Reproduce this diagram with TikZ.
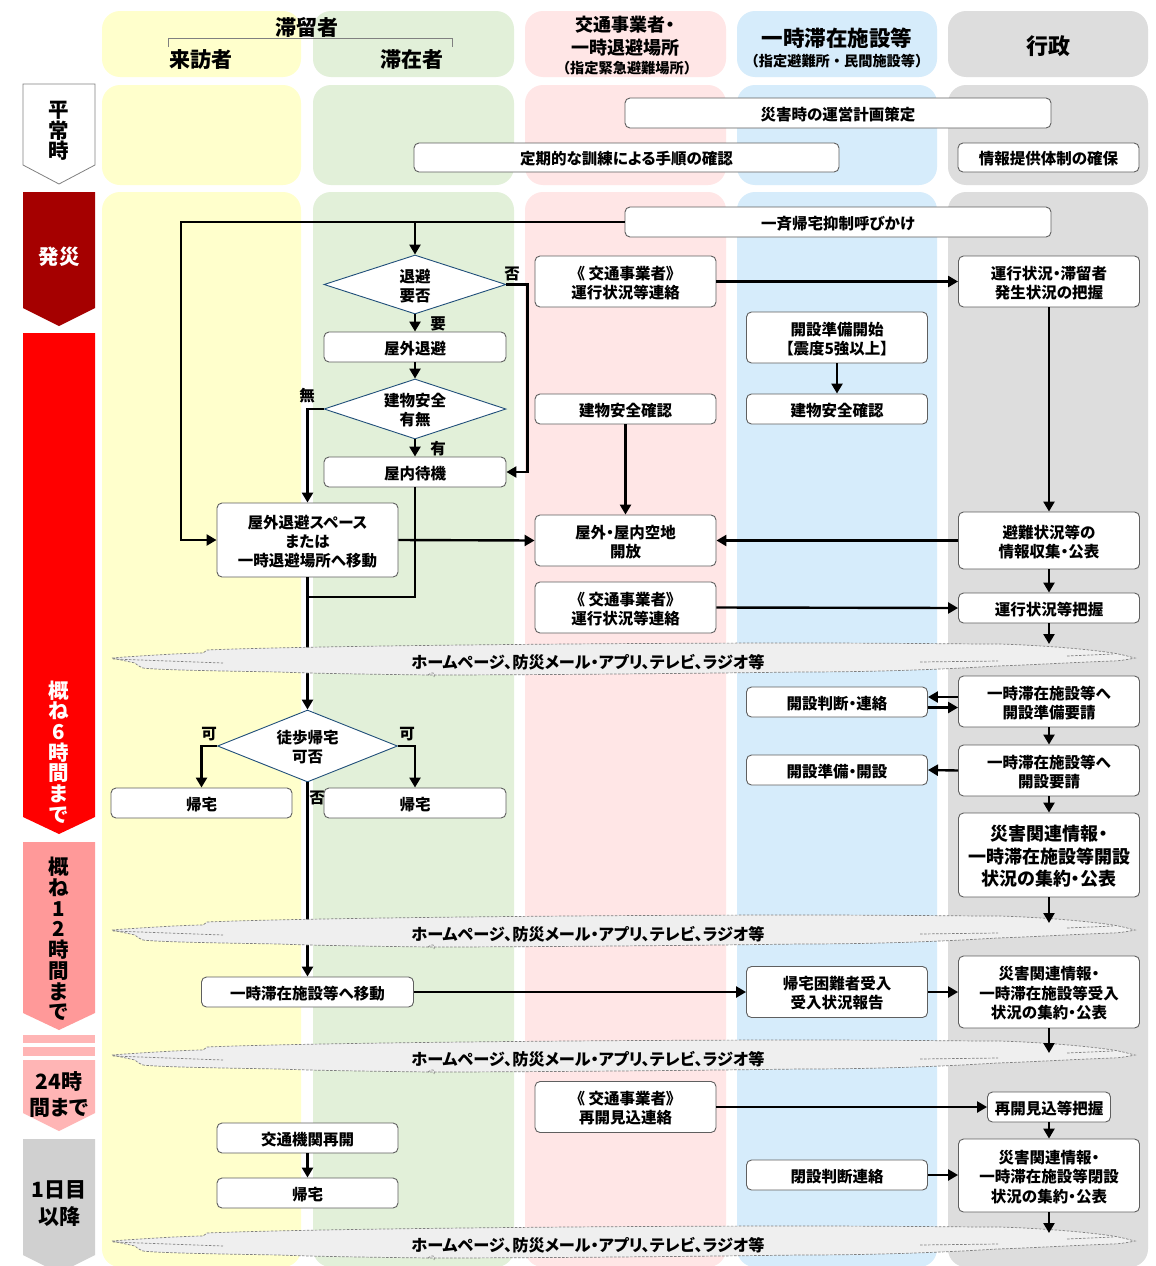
\documentclass[tikz,border=0pt]{standalone}
\usepackage{fontspec}
\setmainfont{Noto Sans CJK JP}[RawFeature=+palt]
\newfontfamily\plainjp{Noto Sans CJK JP}
\usetikzlibrary{shapes.geometric,arrows.meta}

\definecolor{cyellow}{HTML}{FFFFCC}
\definecolor{cgreen}{HTML}{E2F0D9}
\definecolor{cpink}{HTML}{FFE6E6}
\definecolor{cblue}{HTML}{D6ECFB}
\definecolor{cgray}{HTML}{DDDDDD}
\definecolor{tdark}{HTML}{A50000}
\definecolor{tred}{HTML}{FF0000}
\definecolor{tsalmon}{HTML}{FF9999}
\definecolor{tpink}{HTML}{FFB5B5}
\definecolor{tgray}{HTML}{D0D0D0}
\definecolor{boxline}{HTML}{5F5F5F}
\definecolor{dianavy}{HTML}{1F4E79}
\definecolor{cloudfill}{HTML}{EFEFEF}
\definecolor{cloudline}{HTML}{7F7F7F}

\newcommand\bxf{\fontsize{15.5}{19}\selectfont\bfseries}
\newcommand\bandf{\fontsize{16.2}{19}\selectfont\bfseries}
\newcommand\bigbxf{\fontsize{18}{22.5}\selectfont\bfseries}
\newcommand\midbxf{\fontsize{15.5}{19.5}\selectfont\bfseries}
\newcommand\hdrf{\fontsize{21}{24}\selectfont\bfseries}
\newcommand\subf{\plainjp\fontsize{14.2}{16}\selectfont\bfseries}
\newcommand\tlf{\fontsize{20.5}{20.7}\selectfont\bfseries}

\newcommand\infoband[2]{%
  \begin{scope}[shift={(0,#1)}]
    \draw[cloudst] (112,-2) .. controls (150,-5) and (190,-7) .. (203,-7) -- (207,-10)
      .. controls (300,-14) and (600,-17) .. (800,-17)
      .. controls (900,-17) and (950,-16) .. (1000,-16)
      .. controls (1060,-14) and (1100,-9) .. (1113,-7)
      .. controls (1125,-5) and (1130,-3) .. (1135,-2)
      .. controls (1125,0) and (1118,1) .. (1112,1)
      .. controls (1060,3) and (1030,5) .. (997,6)
      .. controls (950,9) and (880,12) .. (800,12)
      .. controls (650,14) and (500,15) .. (430,15)
      .. controls (350,14) and (300,13) .. (280,12)
      .. controls (220,11) and (160,10) .. (143,8)
      .. controls (138,6) and (136,4) .. (135,3) -- cycle;
    \draw[cloudin] (113,-1) -- (223,3);
    \draw[cloudin] (920,2) -- (998,1);
    \draw[cloudin] (1067,-4) -- (1113,-6);
    \draw[cloudin] (428,15) .. controls (432,11) and (436,13) .. (434,17);
    \node[bandtext] (#2) at (588,1) {ホームページ、防災メール・アプリ、テレビ、ラジオ等};
  \end{scope}}

\tikzset{
  box/.style={draw=boxline, line width=0.9pt, fill=white, rounded corners=5pt, inner sep=0pt},
  boxtext/.style={font=\bxf, align=center, inner sep=0pt, yshift=-1.5pt},
  bt/.style={label={[boxtext]center:{#1}}},
  dia/.style={shape=diamond, draw=dianavy, line width=0.9pt, fill=white, aspect=3, inner sep=0pt},
  arr/.style={line width=2.4pt, -{Triangle[length=10pt,width=11pt]}},
  ln/.style={line width=2.4pt},
  lbl/.style={font=\bxf, inner sep=0pt},
  hdr/.style={font=\hdrf, inner sep=0pt},
  tl/.style={font=\tlf, inner sep=0pt, align=center},
  cloudst/.style={fill=cloudfill, draw=cloudline, line width=0.7pt, dash pattern=on 2.5pt off 1.5pt},
  cloudin/.style={draw=cloudline, line width=0.7pt, dash pattern=on 2.5pt off 1.5pt},
  bandtext/.style={font=\bandf, inner sep=0pt, yshift=-1pt},
}

\begin{document}
\begin{tikzpicture}[x=1pt,y=-1pt]
\useasboundingbox (0,0) rectangle (1156,1266);
\fill[white] (0,0) rectangle (1156,1266);

% lanes
\foreach \c/\xa/\xb in {cyellow/102/301, cgreen/313/514, cpink/525/726, cblue/737/937, cgray/948/1148}{
  \fill[\c, rounded corners=18pt] (\xa,11) rectangle (\xb,77);
  \fill[\c, rounded corners=18pt] (\xa,85) rectangle (\xb,185);
  \fill[\c, rounded corners=18pt] (\xa,192) rectangle (\xb,1267);
}

% headers
\node[hdr] (hall) at (307,27) {滞留者};
\draw[gray, line width=0.8pt] (168,47) -- (168,38) -- (452,38) -- (452,47);
\node[hdr] (hvis) at (201,60) {来訪者};
\node[hdr] (hsta) at (412,60) {滞在者};
\node[font=\fontsize{18}{20}\selectfont\bfseries, inner sep=0pt] (htra1) at (625,25) {交通事業者・};
\node[font=\fontsize{18}{20}\selectfont\bfseries, inner sep=0pt] (htra2) at (625,48) {一時退避場所};
\node[font=\subf, inner sep=0pt] (htra3) at (627,68) {（指定緊急避難場所）};
\node[font=\fontsize{21.5}{24}\selectfont\bfseries, inner sep=0pt] (htmp1) at (837,38.5) {一時滞在施設等};
\node[font=\subf, inner sep=0pt] (htmp2) at (837,61.5) {（指定避難所・民間施設等）};
\node[font=\fontsize{22}{24}\selectfont\bfseries, inner sep=0pt] (hgov) at (1048,46) {行政};

% time labels
\draw[draw=gray, fill=white, line width=0.8pt] (23,84) -- (95,84) -- (95,165) -- (59,184) -- (23,165) -- cycle;
\fill[tdark] (23,192) -- (95,192) -- (95,308) -- (59,326) -- (23,308) -- cycle;
\fill[tred] (23,333) -- (95,333) -- (95,817) -- (59,834) -- (23,817) -- cycle;
\fill[tsalmon] (23,842) -- (95,842) -- (95,1013) -- (59,1030) -- (23,1013) -- cycle;
\fill[tpink] (23,1035) rectangle (95,1043);
\fill[tpink] (23,1047) rectangle (95,1056);
\fill[tpink] (23,1060) -- (95,1060) -- (95,1113) -- (59,1131) -- (23,1113) -- cycle;
\fill[tgray] (23,1139) -- (95,1139) -- (95,1255) -- (59,1273) -- (23,1255) -- cycle;

\node[tl] (t0) at (59,131) {平\\常\\時};
\node[tl, text=white] (t1) at (59,257) {発災};
\node[tl, text=white] (t2) at (59,752) {概\\ね\\6\\時\\間\\ま\\で};
\node[tl] (t3) at (59,939) {概\\ね\\1\\2\\時\\間\\ま\\で};
\node[tl, font=\fontsize{21}{26}\selectfont\bfseries] (t4) at (59,1094) {24時\\間まで};
\node[tl, font=\fontsize{21}{27}\selectfont\bfseries] (t5) at (59,1204) {1日目\\以降};

% normal-time boxes
\node[box, minimum width=426pt, minimum height=30pt, bt={災害時の運営計画策定}] (plan) at (838,113) {};
\node[box, minimum width=425pt, minimum height=29pt, bt={定期的な訓練による手順の確認}] (drill) at (626.5,157.5) {};
\node[box, minimum width=181pt, minimum height=29pt, bt={情報提供体制の確保}] (infosys) at (1048.5,157.5) {};

% main boxes
\node[box, minimum width=426pt, minimum height=30pt, bt={一斉帰宅抑制呼びかけ}] (call) at (838,222) {};
\node[dia, minimum width=182pt, minimum height=59pt, bt={退避\\要否}] (d1) at (415,284.5) {};
\node[box, minimum width=182pt, minimum height=30pt, bt={屋外退避}] (outev) at (415,347) {};
\node[dia, minimum width=182pt, minimum height=60pt, bt={建物安全\\有無}] (d2) at (415,409) {};
\node[box, minimum width=182pt, minimum height=30pt, bt={屋内待機}] (indoor) at (415,472) {};
\node[box, minimum width=181pt, minimum height=74pt, bt={屋外退避スペース\\または\\一時退避場所へ移動}] (move) at (307.5,540) {};

\node[box, minimum width=181pt, minimum height=51pt, bt={《 交通事業者》\\運行状況等連絡}] (tr1) at (625.5,281.5) {};
\node[box, minimum width=181pt, minimum height=30pt, bt={建物安全確認}] (bsafe1) at (625.5,409) {};
\node[box, minimum width=181pt, minimum height=51pt, bt={屋外・屋内空地\\開放}] (open) at (625.5,540.5) {};
\node[box, minimum width=181pt, minimum height=51pt, bt={《 交通事業者》\\運行状況等連絡}] (tr2) at (625.5,607.5) {};

\node[box, minimum width=181pt, minimum height=51pt, bt={開設準備開始\\【震度5強以上】}] (prep) at (837,337.5) {};
\node[box, minimum width=181pt, minimum height=30pt, bt={建物安全確認}] (bsafe2) at (837,409) {};

\node[box, minimum width=181pt, minimum height=51pt, bt={運行状況・滞留者\\発生状況の把握}] (g1) at (1049,281.5) {};
\node[box, minimum width=181pt, minimum height=57pt, bt={避難状況等の\\情報収集・公表}] (g2) at (1049,540.5) {};
\node[box, minimum width=181pt, minimum height=30pt, bt={運行状況等把握}] (g3) at (1049,608) {};
\node[box, minimum width=181pt, minimum height=51pt, bt={一時滞在施設等へ\\開設準備要請}] (g4) at (1049,701.5) {};
\node[box, minimum width=181pt, minimum height=30pt, bt={開設判断・連絡}] (b3) at (837,702) {};
\node[box, minimum width=181pt, minimum height=51pt, bt={一時滞在施設等へ\\開設要請}] (g5) at (1049,770.5) {};
\node[box, minimum width=181pt, minimum height=30pt, bt={開設準備・開設}] (b4) at (837,770) {};
\node[box, minimum width=181pt, minimum height=84pt, label={[boxtext, font=\bigbxf]center:{災害関連情報・\\一時滞在施設等開設\\状況の集約・公表}}] (g6) at (1049,855) {};

\node[dia, minimum width=180pt, minimum height=72pt, bt={徒歩帰宅\\可否}] (d3) at (307.5,746) {};
\node[box, minimum width=181pt, minimum height=30pt, bt={帰宅}] (home1) at (201.5,803) {};
\node[box, minimum width=182pt, minimum height=30pt, bt={帰宅}] (home2) at (415,803) {};

\node[box, minimum width=212pt, minimum height=30pt, bt={一時滞在施設等へ移動}] (move2) at (307.5,992) {};
\node[box, minimum width=181pt, minimum height=51pt, bt={帰宅困難者受入\\受入状況報告}] (b5) at (837,992) {};
\node[box, minimum width=181pt, minimum height=72pt, label={[boxtext, font=\midbxf]center:{災害関連情報・\\一時滞在施設等受入\\状況の集約・公表}}] (g7) at (1049,992) {};

\node[box, minimum width=181pt, minimum height=51pt, bt={《 交通事業者》\\再開見込連絡}] (tr3) at (625.5,1107) {};
\node[box, minimum width=123pt, minimum height=30pt, bt={再開見込等把握}] (g8) at (1049,1107) {};
\node[box, minimum width=181pt, minimum height=73pt, label={[boxtext, font=\midbxf]center:{災害関連情報・\\一時滞在施設等閉設\\状況の集約・公表}}] (g9) at (1049,1175.5) {};
\node[box, minimum width=181pt, minimum height=30pt, bt={閉設判断連絡}] (b6) at (837,1175) {};
\node[box, minimum width=181pt, minimum height=30pt, bt={交通機関再開}] (rail) at (307.5,1138) {};
\node[box, minimum width=181pt, minimum height=30pt, bt={帰宅}] (home3) at (307.5,1193) {};

% labels
\node[lbl] (lno1) at (512,274) {否};
\node[lbl] (lreq) at (438,324) {要};
\node[lbl] (lnai) at (307,396) {無};
\node[lbl] (lari) at (438,449) {有};
\node[lbl] (lka1) at (209,734) {可};
\node[lbl] (lka2) at (407,734) {可};
\node[lbl] (lno2) at (317,798) {否};

% lines passing under the info bands
\draw[arr] (move.south) -- (d3.north);
\draw[arr] (d3.south) -- (move2.north);

% info bands
\infoband{660}{band1}
\infoband{932}{band2}
\infoband{1057}{band3}
\infoband{1243}{band4}

\coordinate (c1a) at (1049,644);
\coordinate (c2a) at (1049,923);
\coordinate (c3a) at (1049,1053);
\coordinate (c4a) at (1049,1233);

% connectors
\coordinate (j1) at (415,222);
\coordinate (k1) at (181,222);
\coordinate (jm) at (307.5,597);
\draw[arr] (call.west) -- (k1) |- (move.west);
\draw[arr] (j1) -- (d1.north);
\draw[arr] (d1.east) -- ++(21,0) |- (indoor.east);
\draw[arr] (d1.south) -- (outev.north);
\draw[arr] (outev.south) -- (d2.north);
\draw[arr] (d2.south) -- (indoor.north);
\draw[arr] (d2.west) -| (move.north);
\draw[ln] (indoor.south) |- (jm);
\draw[arr] (move.east) -- (open.west);
\draw[arr] (bsafe1.south) -- (open.north);
\draw[arr] (prep.south) -- (bsafe2.north);
\draw[arr] (tr1.east) -- (g1.west);
\draw[arr] (g1.south) -- (g2.north);
\draw[arr] (g2.west) -- (open.east);
\draw[arr] (g2.south) -- (g3.north);
\draw[arr] (tr2.east) -- (g3.west);
\draw[arr] (g3.south) -- (c1a);
\draw[arr] ([yshift=4.5pt]g4.west) -- ([yshift=4.5pt]g4.west -| b3.east);
\draw[arr] ([yshift=-5.5pt]b3.east) -- ([yshift=-5.5pt]b3.east -| g4.west);
\draw[arr] (g4.south) -- (g5.north);
\draw[arr] (g5.west) -- (b4.east);
\draw[arr] (g5.south) -- (g6.north);
\draw[arr] (g6.south) -- (c2a);
\draw[arr] (d3.west) -| (home1.north);
\draw[arr] (d3.east) -| (home2.north);
\draw[arr] (move2.east) -- (b5.west);
\draw[arr] (b5.east) -- (g7.west);
\draw[arr] (g7.south) -- (c3a);
\draw[arr] (tr3.east) -- (g8.west);
\draw[arr] (g8.south) -- (g9.north);
\draw[arr] (b6.east) -- (b6.east -| g9.west);
\draw[arr] (g9.south) -- (c4a);
\draw[arr] (rail.south) -- (home3.north);
\end{tikzpicture}
\end{document}
